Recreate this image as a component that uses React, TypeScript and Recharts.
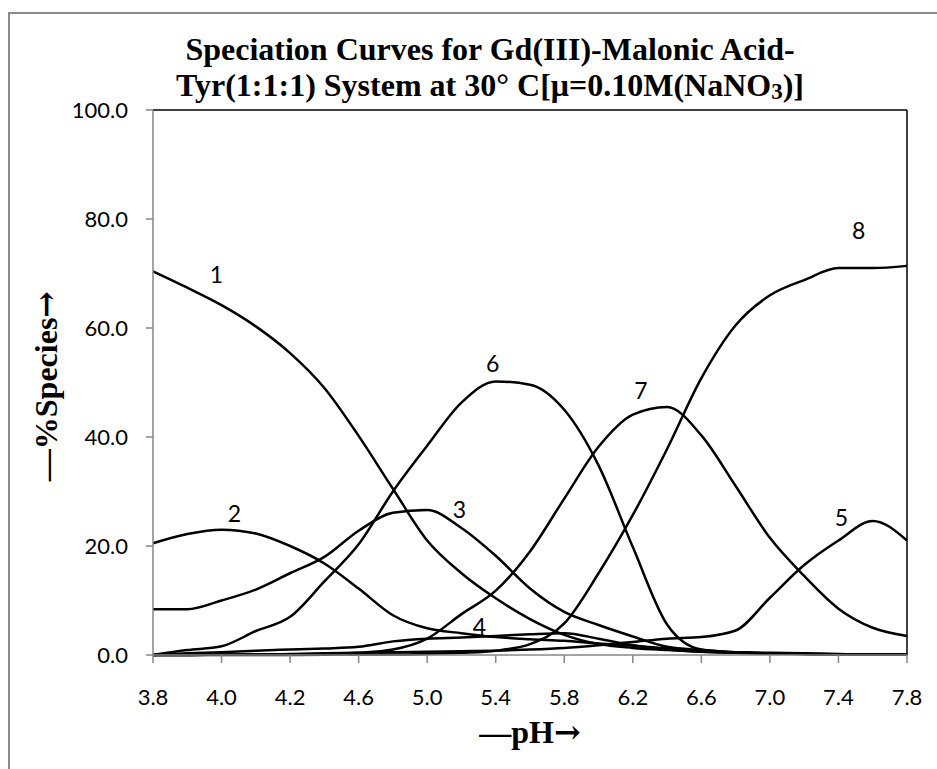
import { LineChart, Line, XAxis, YAxis, ReferenceLine, ReferenceDot } from 'recharts';

// pH steps (Excel category axis, every second one labelled)
const phValues = ['3.8', '3.9', '4.0', '4.1', '4.2', '4.4', '4.6', '4.8', '5.0', '5.2', '5.4', '5.6', '5.8', '6.0', '6.2', '6.4', '6.6', '6.8', '7.0', '7.2', '7.4', '7.6', '7.8'];

const species1 = [70.4, 67.4, 64.2, 60.3, 55.4, 49.0, 40.2, 30.5, 21.0, 15.0, 10.4, 6.6, 3.7, 2.0, 1.3, 0.9, 0.6, 0.4, 0.3, 0.2, 0.15, 0.1, 0.1];
const species2 = [20.5, 22.2, 23.0, 22.3, 20.0, 16.8, 12.2, 7.3, 4.9, 4.0, 3.3, 2.9, 2.6, 2.1, 1.7, 1.2, 0.7, 0.5, 0.4, 0.3, 0.2, 0.1, 0.1];
const species3 = [8.4, 8.4, 10.0, 12.0, 15.0, 18.0, 22.8, 26.1, 26.6, 23.3, 18.2, 12.2, 7.9, 5.5, 3.4, 1.5, 0.9, 0.5, 0.3, 0.2, 0.1, 0.1, 0.05];
const species4 = [0, 0.3, 0.5, 0.8, 1.0, 1.2, 1.5, 2.5, 3.0, 3.2, 3.5, 3.8, 4.0, 3.0, 1.8, 1.0, 0.6, 0.4, 0.3, 0.2, 0.1, 0.1, 0.05];
const species5 = [0, 0, 0.1, 0.1, 0.2, 0.3, 0.4, 0.5, 0.6, 0.7, 0.8, 1.0, 1.3, 1.8, 2.4, 3.0, 3.3, 4.5, 10.5, 16.5, 21.0, 24.6, 21.0];
const species6 = [0, 0.9, 1.6, 4.4, 7.0, 13.5, 20.3, 30.0, 38.4, 46.3, 50.2, 49.6, 45.0, 34.8, 19.8, 5.6, 1.0, 0.5, 0.3, 0.2, 0.1, 0.1, 0.05];
const species7 = [0, 0, 0.05, 0.1, 0.15, 0.2, 0.4, 1.0, 3.0, 7.5, 11.8, 19.0, 28.7, 38.2, 44.1, 45.5, 40.3, 31.0, 21.5, 14.5, 8.5, 5.0, 3.5];
const species8 = [0, 0, 0, 0, 0, 0.05, 0.1, 0.1, 0.2, 0.4, 0.8, 2.0, 5.8, 15.0, 25.7, 37.8, 50.8, 60.5, 66.0, 68.8, 71.0, 71.0, 71.4];

const yTicks = [0, 20, 40, 60, 80, 100];

// curve number tags: [text, category, value, pixel nudge]
const curveTags: [string, string, number, number][] = [
  ['1', '4.0', 70, -5],
  ['2', '4.0', 26, 13],
  ['3', '5.2', 26.7, -2],
  ['4', '5.2', 5.3, 18],
  ['5', '7.4', 25.4, 3],
  ['6', '5.4', 53.6, -3],
  ['7', '6.2', 48.7, 8],
  ['8', '7.6', 78, -14],
];

const allSeries = [species1, species2, species3, species4, species5, species6, species7, species8];

const rows = phValues.map((ph, i) => {
  const row: Record<string, string | number> = { ph };
  allSeries.forEach((s, k) => {
    row['s' + (k + 1)] = s[i];
  });
  return row;
});

const tickFont = 'Lato, "Open Sans", sans-serif';
const titleFont = '"Liberation Serif", "Times New Roman", serif';
const axisGrey = '#868686';

function CurveTag(props: any) {
  const { viewBox, text, dx } = props;
  const x = viewBox.x + viewBox.width / 2 + dx;
  const y = viewBox.y + viewBox.height / 2;
  return (
    <text x={x} y={y} textAnchor="middle" dominantBaseline="central" fontSize={23} fontFamily={tickFont} fill="#000">
      {text}
    </text>
  );
}

const arrowStyle = { fontFamily: '"DejaVu Serif", serif', fontWeight: 700 };

export default function App() {
  return (
    <div style={{ position: 'fixed', left: 0, top: 0, width: 937, height: 769, background: '#fff', overflow: 'hidden' }}>
      <div
        style={{
          position: 'absolute',
          left: 8,
          top: 12,
          width: 1000,
          height: 1000,
          borderLeft: '2px solid #8a8a8a',
          borderTop: '2px solid #8a8a8a',
        }}
      />
      <div
        style={{
          position: 'absolute',
          left: 0,
          top: 31,
          width: 980,
          textAlign: 'center',
          fontFamily: titleFont,
          fontWeight: 700,
          fontSize: 32,
          lineHeight: '36px',
          color: '#000',
          whiteSpace: 'nowrap',
        }}
      >
        Speciation Curves for Gd(III)-Malonic Acid-
        <br />
        Tyr(1:1:1) System at 30° C[μ=0.10M(NaNO
        <span style={{ fontSize: '0.72em', verticalAlign: '-0.12em' }}>3</span>)]
      </div>
      <div style={{ position: 'absolute', left: 0, top: 0 }}>
        <LineChart width={937} height={769} data={rows} margin={{ top: 110, right: 30, bottom: 54, left: 53 }}>
          <XAxis
            dataKey="ph"
            interval={1}
            height={60}
            stroke={axisGrey}
            strokeWidth={1.5}
            tickSize={8}
            tickMargin={26}
            tick={{ fill: '#000', fontSize: 22, fontFamily: tickFont }}
          />
          <YAxis
            width={100}
            domain={[0, 100]}
            ticks={yTicks}
            interval={0}
            stroke={axisGrey}
            strokeWidth={1.5}
            tickSize={7}
            tickMargin={18}
            tickFormatter={(v: number) => v.toFixed(1)}
            tick={{ fill: '#000', fontSize: 22, fontFamily: tickFont }}
          />
          <ReferenceLine y={100} stroke="#000" strokeWidth={1.5} />
          <ReferenceLine x="7.8" stroke="#000" strokeWidth={1.5} />
          {allSeries.map((_, k) => (
            <Line
              key={k}
              type="monotone"
              dataKey={'s' + (k + 1)}
              stroke="#000"
              strokeWidth={2.5}
              dot={false}
              activeDot={false}
              isAnimationActive={false}
            />
          ))}
          {curveTags.map(([text, ph, val, dx]) => (
            <ReferenceDot
              key={text}
              x={ph}
              y={val}
              r={1}
              fill="none"
              stroke="none"
              label={<CurveTag text={text} dx={dx} />}
            />
          ))}
        </LineChart>
      </div>
      <div
        style={{
          position: 'absolute',
          left: 46,
          top: 386,
          transform: 'translate(-50%, -50%) rotate(-90deg)',
          whiteSpace: 'nowrap',
          fontFamily: titleFont,
          fontWeight: 700,
          fontSize: 32,
          lineHeight: '32px',
          color: '#000',
        }}
      >
        —%Species<span style={arrowStyle}>→</span>
      </div>
      <div
        style={{
          position: 'absolute',
          left: 530,
          top: 732,
          transform: 'translate(-50%, -50%)',
          whiteSpace: 'nowrap',
          fontFamily: titleFont,
          fontWeight: 700,
          fontSize: 32,
          lineHeight: '30px',
          color: '#000',
        }}
      >
        —pH<span style={arrowStyle}>→</span>
      </div>
    </div>
  );
}
